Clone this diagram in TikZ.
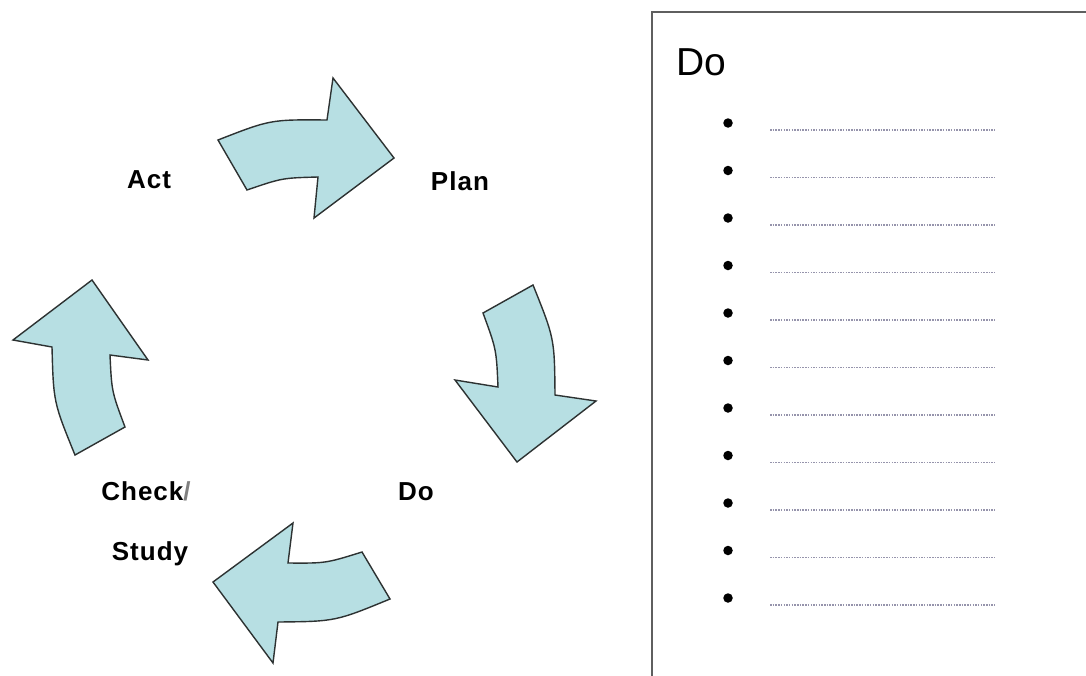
\documentclass[tikz,border=0pt]{standalone}
\usepackage{fontspec}
\setmainfont{Liberation Sans}
\newfontfamily\lblfont[LetterSpace=4]{Liberation Sans}
\definecolor{arrowfill}{RGB}{183,223,227}
\definecolor{arrowline}{RGB}{45,50,50}
\definecolor{boxline}{RGB}{95,95,95}
\definecolor{dotline}{RGB}{150,148,172}
\tikzset{
  cyclearrow/.style={fill=arrowfill, draw=arrowline, line width=1.4pt, line join=miter},
  lbl/.style={font=\lblfont\bfseries\fontsize{26}{30}\selectfont, inner sep=0pt, anchor=base},
  bulletdot/.style={circle, fill=black, inner sep=0pt, minimum size=9.5pt},
  dotrule/.style={draw=dotline, line width=1.6pt, dash pattern=on 1.5pt off 1.2pt},
  title/.style={font=\fontsize{39}{44}\selectfont, inner sep=0pt, anchor=base west}
}
\begin{document}
\begin{tikzpicture}[x=1pt,y=-1pt]
\useasboundingbox (0,0) rectangle (1086,675);
\clip (0,0) rectangle (1086,675);
\fill[white] (0,0) rectangle (1086,675);

% top arrow (Act -> Plan)
\path[cyclearrow] (218,140) .. controls (270.5,119.5) .. (327,120) -- (333,78) -- (394,158)
  -- (314,218) -- (318,177) .. controls (282,178) .. (247,190) -- cycle;
% right arrow (Plan -> Do)
\path[cyclearrow] (533,285) .. controls (554.5,338.5) .. (555,395) -- (596,401) -- (517,462)
  -- (455,380) -- (498,387) .. controls (496.4,349.5) .. (483,313) -- cycle;
% bottom arrow (Do -> Check)
\path[cyclearrow] (390,599) .. controls (335.5,621.4) .. (278,622) -- (273,663) -- (213,582)
  -- (293,523) -- (288,563) .. controls (325.8,563.3) .. (362,552) -- cycle;
% left arrow (Check -> Act)
\path[cyclearrow] (75,455) .. controls (53.5,402.3) .. (52,347) -- (13,340) -- (92,280)
  -- (148,360) -- (110,355) .. controls (111.7,391.6) .. (125,427) -- cycle;

% labels
\node[lbl] (act) at (149,188) {Act};
\node[lbl] (plan) at (460,190) {Plan};
\node[lbl] (do) at (416,500) {Do};
\node[lbl] (check) at (146,500) {Check\textcolor{gray}{/}};
\node[lbl] (study) at (150,560) {Study};

% right panel
\draw[boxline, line width=2.2pt] (1100,12) -- (652,12) -- (652,700);
\node[title] (dotitle) at (676,75) {Do};
\foreach \i in {0,...,10} {
  \node[bulletdot] (b\i) at (728,{123+47.5*\i}) {};
  \draw[dotrule] (770,{130+47.5*\i}) -- (995,{130+47.5*\i});
}
\end{tikzpicture}
\end{document}
